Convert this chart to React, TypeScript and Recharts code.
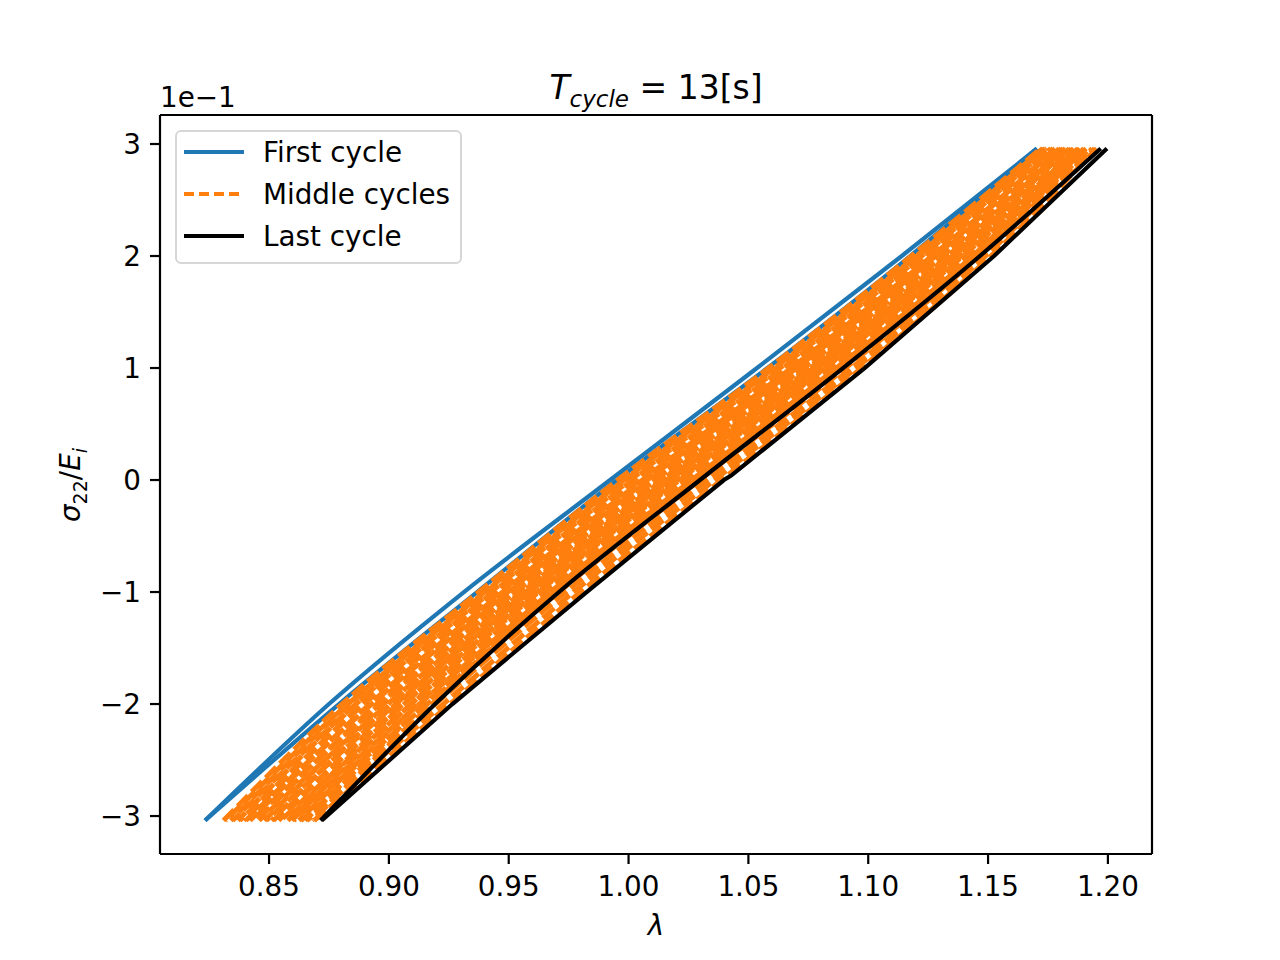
import { LineChart, Line, XAxis, YAxis, ReferenceLine } from 'recharts';

const FONT = '"DejaVu Sans", sans-serif';

// stress levels (sigma22/Ei, x1e-1) shared by the middle cycles
const levels = [-3.04, -2, -1, 0, 1, 2, 2.96];

// first cycle, [lambda, sigma]
const firstOuter = [
  [0.8233, -3.04], [0.875, -2], [0.9313, -1], [0.9923, 0], [1.0536, 1],
  [1.114, 2], [1.1704, 2.96],
];
const firstInner = [
  [0.8233, -3.04], [0.8792, -2], [0.9368, -1], [0.9952, 0], [1.058, 1],
  [1.1175, 2], [1.1704, 2.96],
];

// last cycle
const lastUpper = [
  [0.8715, -3.04], [0.9193, -2], [0.971, -1], [1.0298, 0], [1.0895, 1],
  [1.1466, 2], [1.197, 2.96],
];
const lastLower = [
  [0.872, -3.04], [0.9265, -2], [0.9825, -1], [1.0398, 0], [1.0428, 0.04],
  [1.0985, 1], [1.1525, 2], [1.1996, 2.96],
];

// middle cycles: lambda at each of the levels above
const middleLeft = [
  [0.831, 0.8805, 0.9375, 0.9955, 1.0585, 1.118, 1.172],
  [0.834, 0.8834, 0.94, 0.9981, 1.0608, 1.1201, 1.1737],
  [0.837, 0.8863, 0.9425, 1.0007, 1.0632, 1.1223, 1.1754],
  [0.8395, 0.8891, 0.945, 1.0032, 1.0655, 1.1244, 1.1772],
  [0.842, 0.892, 0.9475, 1.0058, 1.0679, 1.1266, 1.1789],
  [0.845, 0.8949, 0.95, 1.0084, 1.0702, 1.1287, 1.1806],
  [0.848, 0.8978, 0.9525, 1.011, 1.0726, 1.1309, 1.1823],
  [0.851, 0.9007, 0.955, 1.0136, 1.0749, 1.133, 1.184],
  [0.854, 0.9036, 0.9575, 1.0161, 1.0773, 1.1352, 1.1857],
  [0.857, 0.9064, 0.96, 1.0187, 1.0796, 1.1373, 1.1875],
  [0.8595, 0.9093, 0.9625, 1.0213, 1.082, 1.1395, 1.1892],
  [0.8625, 0.9122, 0.965, 1.0239, 1.0843, 1.1416, 1.1909],
  [0.865, 0.9151, 0.9675, 1.0264, 1.0867, 1.1438, 1.1926],
  [0.868, 0.918, 0.97, 1.029, 1.089, 1.146, 1.1945],
];
const middleRight = [
  [0.8318, 0.8829, 0.9405, 0.9985, 1.0615, 1.1204, 1.1728],
  [0.8348, 0.8862, 0.9435, 1.0016, 1.0643, 1.1229, 1.1745],
  [0.8378, 0.8896, 0.9466, 1.0048, 1.0673, 1.1256, 1.1762],
  [0.8403, 0.8928, 0.9496, 1.0078, 1.0701, 1.1281, 1.178],
  [0.8428, 0.8962, 0.9527, 1.011, 1.0731, 1.1308, 1.1797],
  [0.8458, 0.8995, 0.9557, 1.0141, 1.0759, 1.1333, 1.1814],
  [0.8488, 0.9028, 0.9587, 1.0172, 1.0788, 1.1359, 1.1831],
  [0.8518, 0.9061, 0.9618, 1.0204, 1.0817, 1.1384, 1.1848],
  [0.8548, 0.9094, 0.9648, 1.0234, 1.0846, 1.141, 1.1865],
  [0.8578, 0.9127, 0.9679, 1.0266, 1.0875, 1.1436, 1.1883],
  [0.8603, 0.916, 0.9709, 1.0297, 1.0905, 1.146, 1.19],
  [0.8633, 0.9193, 0.9739, 1.0328, 1.093, 1.1475, 1.1917],
  [0.8658, 0.9227, 0.977, 1.0359, 1.095, 1.149, 1.1934],
  [0.8688, 0.9255, 0.98, 1.0388, 1.0972, 1.1512, 1.1953],
];

const xTicks = [0.85, 0.9, 0.95, 1.0, 1.05, 1.1, 1.15, 1.2];
const yTicks = [-3, -2, -1, 0, 1, 2, 3];

const X_DOMAIN = [0.8045, 1.2184];
const Y_DOMAIN = [-3.339, 3.259];

const pairs = (p: number[][]) => p.map(([x, y]) => ({ x, y }));
const onLevels = (xs: number[]) => xs.map((x, i) => ({ x, y: levels[i] }));

const minus = (s: string) => s.replace('-', '\u2212');

const tickStyle = { fill: '#000', fontSize: 27.8, fontFamily: FONT };
const DASH = '15 5';
const dashShift = [0, 9, 4, 13, 7, 17, 2, 11, 6, 15, 1, 10, 5, 14];

const LegendBox = () => {
  const rows = [
    { label: 'First cycle', color: '#1f77b4', dash: undefined },
    { label: 'Middle cycles', color: '#ff7f0e', dash: '10 5' },
    { label: 'Last cycle', color: '#000000', dash: undefined },
  ];
  return (
    <div
      style={{
        position: 'absolute', left: 175, top: 130, width: 283, height: 130,
        border: '2px solid #d6d6d6', borderRadius: 6, background: 'rgba(255,255,255,0.8)',
        fontFamily: FONT, fontSize: 27.8, color: '#000',
      }}
    >
      {rows.map((r, i) => (
        <div key={r.label} style={{ position: 'absolute', left: 6, top: i * 42, height: 40, display: 'flex', alignItems: 'center' }}>
          <svg width={62} height={10} style={{ marginRight: 18 }}>
            <line x1={1} y1={5} x2={61} y2={5} stroke={r.color} strokeWidth={4} strokeDasharray={r.dash} />
          </svg>
          <span style={{ whiteSpace: 'nowrap' }}>{r.label}</span>
        </div>
      ))}
    </div>
  );
};

const App = () => {
  return (
    <div style={{ position: 'absolute', left: 0, top: 0, width: 1280, height: 960, background: '#fff' }}>
      <LineChart width={1280} height={960} margin={{ top: 115, right: 128, bottom: 46, left: 80 }}>
        <XAxis
          type="number" dataKey="x" domain={X_DOMAIN} ticks={xTicks} interval={0} allowDataOverflow
          height={60} tickSize={10} tickMargin={12} tick={tickStyle}
          tickFormatter={(v: number) => v.toFixed(2)}
          axisLine={{ stroke: '#000', strokeWidth: 2.2 }} tickLine={{ stroke: '#000', strokeWidth: 2.2 }}
        />
        <YAxis
          type="number" dataKey="y" domain={Y_DOMAIN} ticks={yTicks} interval={0} allowDataOverflow
          width={80} tickSize={10} tickMargin={9} tick={tickStyle}
          tickFormatter={(v: number) => minus(String(v))}
          axisLine={{ stroke: '#000', strokeWidth: 2.2 }} tickLine={{ stroke: '#000', strokeWidth: 2.2 }}
        />
        <ReferenceLine x={X_DOMAIN[1]} stroke="#000" strokeWidth={2.2} />
        <ReferenceLine y={Y_DOMAIN[1]} stroke="#000" strokeWidth={2.2} />

        <Line type="monotone" data={pairs(firstOuter)} dataKey="y" stroke="#1f77b4" strokeWidth={4.2} dot={false} isAnimationActive={false} />
        <Line type="monotone" data={pairs(firstInner)} dataKey="y" stroke="#1f77b4" strokeWidth={4.2} dot={false} isAnimationActive={false} />

        {middleLeft.map((xs, i) => (
          <Line key={'l' + i} type="monotone" data={onLevels(xs)} dataKey="y" stroke="#ff7f0e" strokeWidth={5}
            strokeDasharray={DASH} strokeDashoffset={dashShift[i]} dot={false} isAnimationActive={false} />
        ))}
        {middleRight.map((xs, i) => (
          <Line key={'r' + i} type="monotone" data={onLevels(xs)} dataKey="y" stroke="#ff7f0e" strokeWidth={5}
            strokeDasharray={DASH} strokeDashoffset={dashShift[13 - i]} dot={false} isAnimationActive={false} />
        ))}

        <Line type="monotone" data={pairs(lastUpper)} dataKey="y" stroke="#000" strokeWidth={4.2} dot={false} isAnimationActive={false} />
        <Line type="linear" data={pairs(lastLower)} dataKey="y" stroke="#000" strokeWidth={4.2} dot={false} isAnimationActive={false} />
      </LineChart>

      <div style={{ position: 'absolute', left: 656, top: 68, transform: 'translateX(-50%)', fontFamily: FONT, fontSize: 33, whiteSpace: 'nowrap', color: '#000' }}>
        <i>T</i><i style={{ fontSize: 23, position: 'relative', top: 8 }}>cycle</i> = 13[s]
      </div>
      <div style={{ position: 'absolute', left: 160, top: 81, fontFamily: FONT, fontSize: 27.8, color: '#000' }}>
        1e{'\u2212'}1
      </div>
      <div style={{ position: 'absolute', left: 70, top: 485, transform: 'translate(-50%, -50%) rotate(-90deg)', fontFamily: FONT, fontSize: 27.8, whiteSpace: 'nowrap', color: '#000' }}>
        <i>σ</i><span style={{ fontSize: 19, position: 'relative', top: 7 }}>22</span>/<i>E</i><i style={{ fontSize: 19, position: 'relative', top: 7 }}>i</i>
      </div>
      <div style={{ position: 'absolute', left: 656, top: 909, transform: 'translateX(-50%)', fontFamily: FONT, fontSize: 27.8, color: '#000' }}>
        <i>λ</i>
      </div>
      <LegendBox />
    </div>
  );
};

export default App;
